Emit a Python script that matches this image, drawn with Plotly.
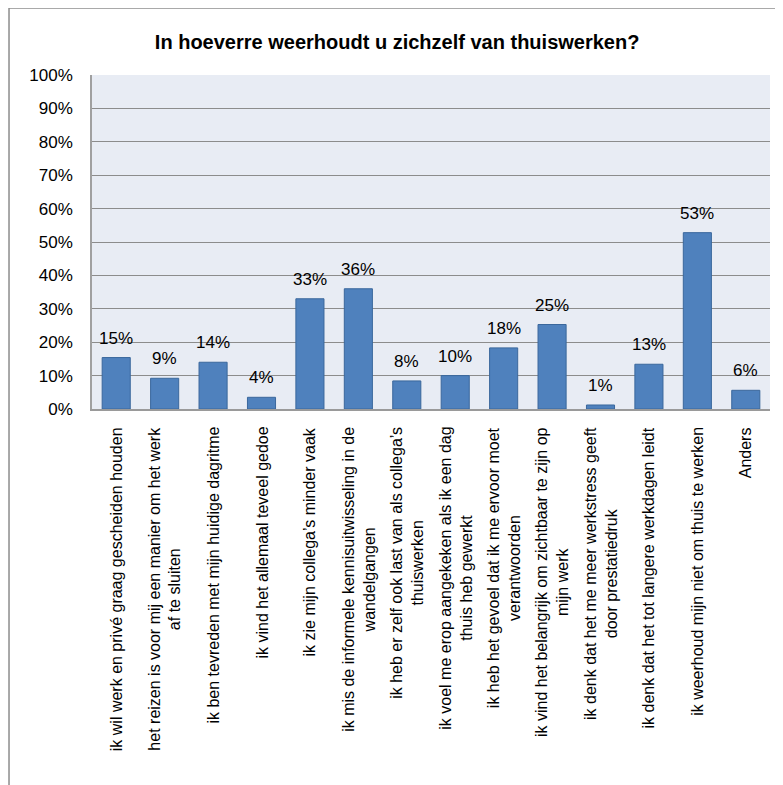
import plotly.graph_objects as go

categories = [
    "ik wil werk en privé graag gescheiden houden",
    "het reizen is voor mij een manier om het werk<br>af te sluiten",
    "ik ben tevreden met mijn huidige dagritme",
    "ik vind het allemaal teveel gedoe",
    "ik zie mijn collega’s minder vaak",
    "ik mis de informele kennisuitwisseling in de<br>wandelgangen",
    "ik heb er zelf ook last van als collega’s<br>thuiswerken",
    "ik voel me erop aangekeken als ik een dag<br>thuis heb gewerkt",
    "ik heb het gevoel dat ik me ervoor moet<br>verantwoorden",
    "ik vind het belangrijk om zichtbaar te zijn op<br>mijn werk",
    "ik denk dat het me meer werkstress geeft<br>door prestatiedruk",
    "ik denk dat het tot langere werkdagen leidt",
    "ik weerhoud mijn niet om thuis te werken",
    "Anders",
]
values = [15.4, 9.2, 14.0, 3.5, 33.0, 36.0, 8.4, 10.0, 18.3, 25.3, 1.2, 13.4, 52.8, 5.6]
ytick_vals = [0, 10, 20, 30, 40, 50, 60, 70, 80, 90, 100]
ytick_text = [f"{v}%" for v in ytick_vals]
title = "In hoeverre weerhoudt u zichzelf van thuiswerken?"

FONT = "Liberation Sans, Arial, sans-serif"
ids = list(range(len(categories)))

fig = go.Figure()
fig.add_trace(go.Bar(
    x=ids, y=values,
    marker=dict(color="#4F81BD", line=dict(color="#3A679C", width=1)),
    hoverinfo="skip",
))

annotations = []
for i, (c, v) in enumerate(zip(categories, values)):
    annotations.append(dict(
        x=i, y=v, xref="x", yref="y", text=f"{v:.0f}%",
        showarrow=False, yanchor="bottom", xanchor="center", yshift=8,
        font=dict(family=FONT, size=17, color="#000000"),
    ))
    annotations.append(dict(
        x=i, y=0, xref="x", yref="paper", text=c,
        showarrow=False, yanchor="top", xanchor="center", yshift=-16,
        textangle=-90, align="center",
        font=dict(family=FONT, size=16, color="#000000"),
    ))

fig.update_layout(
    width=783, height=785,
    margin=dict(l=84, r=21, t=67, b=384),
    paper_bgcolor="#FFFFFF",
    plot_bgcolor="#E8ECF4",
    showlegend=False,
    bargap=0.42,
    title=dict(text=f"<b>{title}</b>", x=0.497, xanchor="center", y=0.957, yanchor="middle",
               font=dict(family=FONT, size=20, color="#000000")),
    xaxis=dict(range=[-0.5, len(categories) - 0.5], showticklabels=False, showgrid=False,
               zeroline=False, showline=True, linecolor="#9A9A9A", linewidth=1.5, ticks=""),
    yaxis=dict(range=[0, 100], tickvals=ytick_vals, ticktext=ytick_text,
               showgrid=True, gridcolor="#8C8C8C", gridwidth=1, zeroline=False,
               showline=True, linecolor="#A0A0A0", linewidth=1.5, ticks="",
               ticklabelstandoff=14,
               tickfont=dict(family=FONT, size=17, color="#000000")),
    annotations=annotations,
    shapes=[
        dict(type="line", xref="paper", yref="paper", x0=-0.1224, x1=1.05, y0=1.2006, y1=1.2006,
             line=dict(color="#8C8C8C", width=1.5)),
        dict(type="line", xref="paper", yref="paper", x0=-0.1224, x1=-0.1224, y0=1.2006, y1=-1.2,
             line=dict(color="#8C8C8C", width=1.5)),
    ],
)

fig.write_html("out.html")
